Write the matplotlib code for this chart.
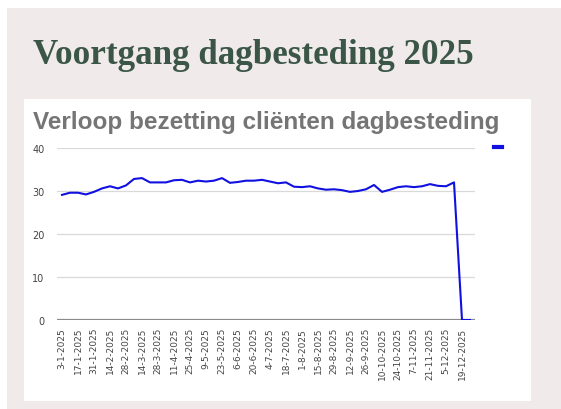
import numpy as np
import pandas as pd
import matplotlib
matplotlib.use("Agg")
import matplotlib.pyplot as plt
from matplotlib.patches import Rectangle
from matplotlib.lines import Line2D

# weekly occupancy, 3-1-2025 .. 26-12-2025
weeks = pd.date_range("2025-01-03", periods=52, freq="7D")
bezetting = [29.1, 29.6, 29.6, 29.2, 29.8, 30.6, 31.1, 30.6, 31.3, 32.8,
             33.0, 32.0, 32.0, 32.0, 32.5, 32.6, 32.0, 32.4, 32.2, 32.4,
             33.0, 31.9, 32.1, 32.4, 32.4, 32.6, 32.2, 31.8, 32.0, 31.0,
             30.9, 31.1, 30.6, 30.3, 30.4, 30.2, 29.8, 30.0, 30.4, 31.4,
             29.8, 30.3, 30.9, 31.1, 30.9, 31.1, 31.6, 31.2, 31.1, 32.0,
             0.0, 0.0]
y_ticks = [0, 10, 20, 30, 40]

W, H = 561, 410
fig = plt.figure(figsize=(W / 100, H / 100), dpi=100)
fig.patch.set_facecolor("white")

def box(x0, y0, x1, y1):
    # pixel box (top-left origin) -> figure coords
    return [x0 / W, 1 - y1 / H, (x1 - x0) / W, (y1 - y0) / H]

bg = box(7, 9, 561, 410)
fig.patches.append(Rectangle((bg[0], bg[1]), bg[2], bg[3], transform=fig.transFigure,
                             facecolor="#f0eaea", edgecolor="none", zorder=-2))
pn = box(24, 100, 531, 402)
fig.patches.append(Rectangle((pn[0], pn[1]), pn[2], pn[3], transform=fig.transFigure,
                             facecolor="white", edgecolor="none", zorder=-1))

fig.text(33 / W, 1 - 64 / H, "Voortgang dagbesteding 2025", family="Liberation Serif",
         weight="bold", fontsize=25.2, color="#3b5646", va="baseline", ha="left")
fig.text(33 / W, 1 - 129 / H, "Verloop bezetting cliënten dagbesteding",
         family="Liberation Sans", weight="bold", fontsize=17.5, color="#757575",
         va="baseline", ha="left")

ax = fig.add_axes(box(57, 149, 475, 321))
ax.set_zorder(5)
ax.set_facecolor("none")
x = np.arange(len(weeks))
ax.plot(x, bezetting, color="#1010e0", lw=1.5, solid_joinstyle="round", zorder=3)

ax.set_xlim(-0.625, 51.625)
ax.set_ylim(0, 40)
ax.set_yticks(y_ticks)
ax.set_yticklabels([str(v) for v in y_ticks])
ax.yaxis.grid(True, color="#d9d9d9", lw=0.9)
ax.axhline(0, color="#8a8a8a", lw=1.6, zorder=2)
for s in ax.spines.values():
    s.set_visible(False)
ax.tick_params(axis="y", length=0, pad=9, labelsize=7, labelcolor="#444444")

ax.set_xticks(x[::2])
ax.set_xticklabels([f"{d.day}-{d.month}-{d.year}" for d in weeks[::2]],
                   rotation=90, fontsize=6.5, color="#444444")
ax.tick_params(axis="x", length=0, pad=5)

leg_handle = Line2D([], [], color="#1010e0", lw=3)
fig.legend(handles=[leg_handle], labels=[""], loc="center",
           bbox_to_anchor=(498 / W, 1 - 148 / H), frameon=False,
           handlelength=0.9, fontsize=7, handletextpad=0)

fig.savefig("out.png", dpi=100, facecolor=fig.get_facecolor())
